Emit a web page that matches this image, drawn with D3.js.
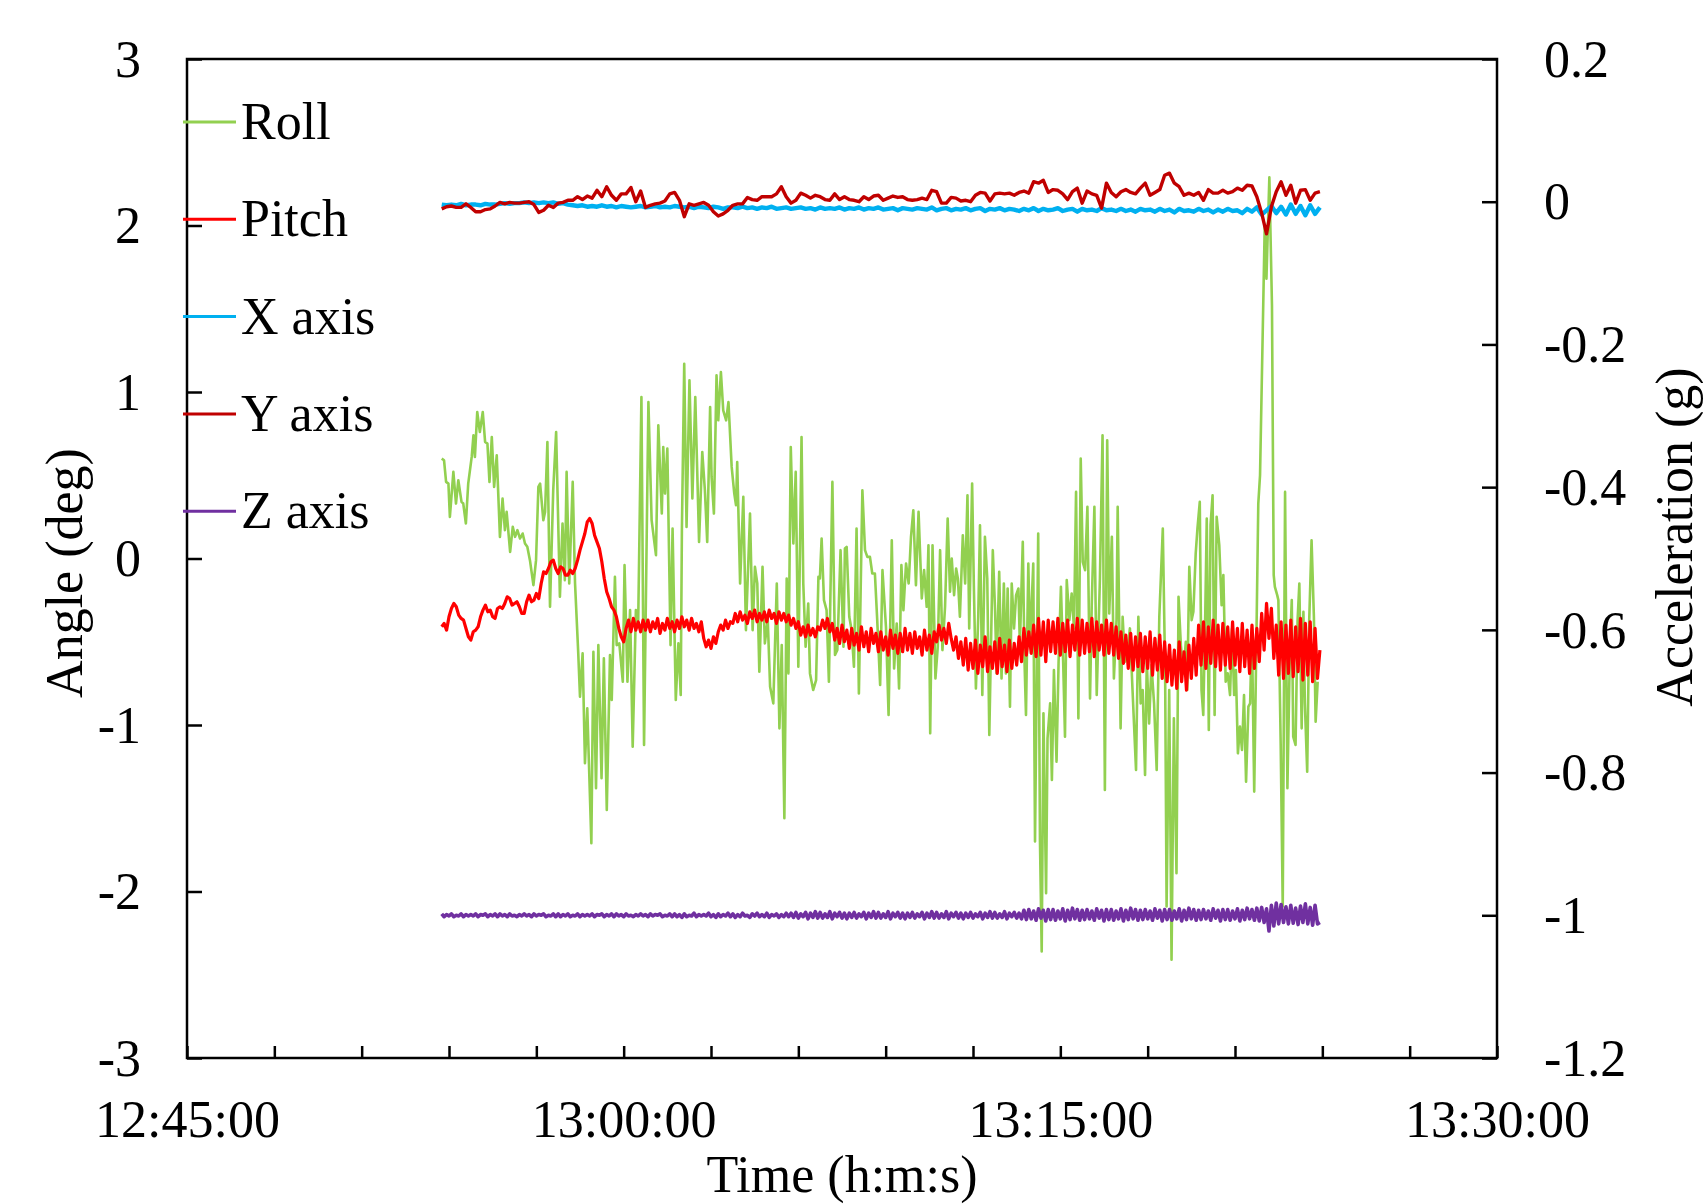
<!DOCTYPE html>
<html><head><meta charset="utf-8">
<script src="https://cdn.jsdelivr.net/npm/d3@7"></script>
<style>
body{margin:0;background:#fff}
svg text{font-family:"Liberation Serif","Times New Roman",serif;fill:#000}
</style>
</head><body>
<svg id="chart" width="1703" height="1204"></svg>
<script>
// ---------- data ----------
const axisStart = "12:45:00";
const axisEnd = "13:30:00";
const xTickStepMin = 3;
const xTickLabels = ["12:45:00", "13:00:00", "13:15:00", "13:30:00"];
const angleTicks = [-3, -2, -1, 0, 1, 2, 3];
const accTicks = [-1.2, -1, -0.8, -0.6, -0.4, -0.2, 0, 0.2];
const seriesNames = ["Roll", "Pitch", "X axis", "Y axis", "Z axis"];
const seriesColors = ["#92D050", "#FF0000", "#00B0F0", "#C00000", "#7030A0"];

// Roll: [minutes after 12:45:00, angle in deg]
const rollSamples = [
[8.75,0.60],[8.83,0.59],[8.90,0.46],[8.98,0.45],[9.03,0.25],[9.15,0.52],[9.24,0.33],[9.32,0.47],[9.43,0.34],[9.49,0.33],
[9.58,0.21],[9.66,0.45],[9.78,0.61],[9.84,0.74],[9.89,0.61],[9.97,0.88],[10.06,0.76],[10.16,0.88],[10.24,0.70],[10.32,0.69],
[10.39,0.46],[10.47,0.73],[10.55,0.43],[10.64,0.62],[10.75,0.13],[10.84,0.36],[10.92,0.17],[10.98,0.28],[11.10,0.04],[11.19,0.19],
[11.27,0.13],[11.35,0.17],[11.44,0.12],[11.53,0.15],[11.61,0.09],[11.69,0.07],[11.78,-0.01],[11.90,-0.16],[11.99,-0.01],[12.07,0.43],
[12.13,0.45],[12.24,0.23],[12.30,0.28],[12.38,0.70],[12.47,-0.29],[12.58,0.41],[12.68,0.76],[12.81,-0.23],[12.90,0.21],[12.98,-0.13],
[13.04,0.52],[13.13,-0.15],[13.25,0.46],[13.33,-0.15],[13.44,-0.57],[13.50,-0.83],[13.59,-0.57],[13.67,-1.23],[13.75,-0.90],[13.89,-1.71],
[13.96,-0.56],[14.05,-1.38],[14.13,-0.52],[14.24,-1.32],[14.32,-0.60],[14.42,-1.51],[14.53,-0.58],[14.59,-0.85],[14.70,-0.11],[14.76,-0.52],
[14.85,-0.51],[14.97,-0.74],[15.03,-0.04],[15.13,-0.74],[15.22,-0.31],[15.31,-1.13],[15.42,-0.31],[15.50,-0.37],[15.61,0.97],[15.70,-1.12],
[15.85,0.94],[15.96,0.23],[16.11,0.02],[16.19,0.80],[16.31,0.27],[16.36,0.67],[16.42,0.39],[16.50,0.66],[16.61,-0.52],[16.68,0.18],
[16.79,-0.85],[16.88,-0.51],[16.96,-0.82],[17.00,0.17],[17.08,1.17],[17.16,0.19],[17.26,1.07],[17.36,0.36],[17.46,0.97],[17.59,0.10],
[17.70,0.64],[17.79,0.41],[17.87,0.10],[17.97,0.91],[18.02,0.49],[18.10,0.27],[18.19,1.10],[18.25,0.83],[18.34,1.12],[18.42,0.89],
[18.52,0.83],[18.60,0.94],[18.71,0.55],[18.80,0.39],[18.86,0.32],[18.90,0.58],[19.00,-0.15],[19.11,0.37],[19.20,-0.43],[19.34,0.27],
[19.43,-0.43],[19.51,-0.05],[19.59,-0.15],[19.66,-0.68],[19.77,-0.05],[19.85,-0.51],[19.95,-0.37],[20.03,-0.77],[20.14,-0.87],[20.26,-0.15],
[20.35,-1.02],[20.43,-0.52],[20.52,-1.56],[20.60,-0.12],[20.66,-0.69],[20.74,0.67],[20.83,0.09],[20.91,0.52],[21.00,-0.65],[21.11,0.73],
[21.17,-0.15],[21.25,-0.53],[21.34,-0.27],[21.40,-0.69],[21.51,-0.79],[21.61,-0.73],[21.69,-0.11],[21.74,-0.12],[21.80,0.12],[21.88,-0.25],
[21.97,-0.31],[22.05,-0.74],[22.17,0.46],[22.26,-0.58],[22.34,-0.55],[22.45,0.05],[22.55,-0.53],[22.60,0.06],[22.66,0.07],[22.75,-0.35],
[22.83,-0.43],[22.91,-0.65],[23.00,0.18],[23.08,-0.81],[23.20,0.41],[23.29,0.05],[23.37,0.01],[23.46,0.01],[23.54,-0.09],[23.63,-0.09],
[23.71,-0.37],[23.81,-0.76],[23.89,-0.07],[24.01,-0.41],[24.10,-0.94],[24.21,0.11],[24.29,-0.66],[24.38,-0.39],[24.46,-0.78],[24.54,-0.04],
[24.61,-0.31],[24.70,-0.03],[24.79,-0.15],[24.87,0.13],[24.95,0.29],[25.04,-0.16],[25.13,0.28],[25.24,-0.24],[25.32,-0.07],[25.41,-0.29],
[25.47,0.08],[25.53,-1.05],[25.61,0.08],[25.71,-0.72],[25.79,-0.53],[25.87,0.05],[25.95,-0.55],[26.04,-0.29],[26.13,0.24],[26.21,-0.20],
[26.27,0.00],[26.35,-0.22],[26.42,-0.06],[26.48,-0.12],[26.55,-0.35],[26.65,0.14],[26.73,-0.15],[26.81,0.38],[26.87,-0.42],[26.97,0.45],
[27.03,-0.17],[27.10,-0.78],[27.18,-0.35],[27.24,0.20],[27.32,-0.82],[27.41,0.13],[27.49,-0.12],[27.56,-1.06],[27.68,0.05],[27.76,-0.32],
[27.81,-0.69],[27.90,-0.08],[27.98,-0.72],[28.06,-0.15],[28.13,-0.69],[28.19,-0.18],[28.27,-0.89],[28.33,-0.15],[28.41,-0.42],[28.48,-0.22],
[28.56,-0.18],[28.61,-0.52],[28.71,0.10],[28.77,-0.62],[28.82,-0.94],[28.90,-0.03],[28.96,-0.52],[29.07,-0.03],[29.13,-1.70],[29.24,0.15],
[29.30,-1.69],[29.36,-2.36],[29.42,-0.93],[29.51,-2.01],[29.56,-1.08],[29.65,-0.87],[29.71,-1.33],[29.78,-0.67],[29.87,-1.22],[29.94,-0.62],
[30.02,-0.17],[30.10,-0.64],[30.16,-1.07],[30.22,-0.13],[30.31,-0.37],[30.39,-0.21],[30.47,-0.42],[30.54,0.40],[30.62,-0.96],[30.70,0.60],
[30.77,-0.02],[30.85,-0.07],[30.93,0.31],[31.02,-0.84],[31.08,-0.27],[31.17,0.31],[31.25,-0.82],[31.36,-0.12],[31.45,0.74],[31.53,-1.39],
[31.61,0.71],[31.68,-0.33],[31.77,0.13],[31.84,-0.72],[31.93,-0.37],[31.97,0.31],[32.07,-1.02],[32.14,-0.35],[32.22,-0.62],[32.28,-0.60],
[32.39,-0.42],[32.48,-0.79],[32.60,-1.27],[32.68,-0.35],[32.76,-0.87],[32.83,-0.79],[32.91,-1.30],[32.97,-0.62],[33.05,-0.99],[33.13,-0.64],
[33.22,-0.87],[33.31,-1.27],[33.40,-0.35],[33.52,0.18],[33.60,-0.69],[33.65,-2.09],[33.74,-0.79],[33.82,-2.41],[33.90,-0.96],[33.99,-1.89],
[34.06,-0.23],[34.14,-0.52],[34.23,-0.69],[34.31,-0.50],[34.36,-0.79],[34.43,-0.05],[34.51,-0.37],[34.57,-0.32],[34.65,0.03],[34.71,0.18],
[34.79,0.34],[34.85,-0.79],[34.91,-0.94],[34.98,-0.32],[35.03,0.24],[35.10,-1.03],[35.16,0.20],[35.23,0.38],[35.30,-0.94],[35.37,0.25],
[35.46,0.08],[35.54,-0.28],[35.60,-0.10],[35.68,-0.74],[35.75,-0.69],[35.83,-0.82],[35.90,-0.42],[35.97,-0.82],[36.03,-0.67],[36.10,-1.17],
[36.17,-1.01],[36.24,-1.15],[36.31,-0.82],[36.38,-1.34],[36.46,-0.89],[36.52,-0.87],[36.58,-0.42],[36.66,-1.40],[36.74,-0.42],[36.80,0.33],
[36.86,0.50],[37.02,1.99],[37.08,1.68],[37.18,2.29],[37.27,1.52],[37.33,-0.10],[37.37,-0.17],[37.45,-0.22],[37.49,-0.25],[37.57,-1.12],
[37.64,-2.09],[37.72,0.40],[37.80,-1.38],[37.89,-0.52],[37.95,-0.25],[38.00,-1.07],[38.08,-1.12],[38.15,-0.37],[38.21,-0.15],[38.29,-1.02],
[38.35,-0.32],[38.40,-0.87],[38.48,-1.28],[38.55,-0.37],[38.63,0.11],[38.71,-0.35],[38.77,-0.98],[38.84,-0.74]
];

// Pitch and Z axis: one value every 5 s from sampleStart
const sampleStart = "12:53:45";
const fineStepSec = 5;
const pitchDeg = [
-0.41,-0.39,-0.43,-0.35,-0.30,-0.27,-0.29,-0.34,-0.36,-0.37,-0.42,-0.47,-0.49,-0.44,-0.43,-0.41,-0.35,-0.31,-0.28,-0.32,
-0.31,-0.35,-0.36,-0.30,-0.29,-0.30,-0.27,-0.23,-0.24,-0.28,-0.27,-0.26,-0.29,-0.33,-0.33,-0.26,-0.22,-0.26,-0.25,-0.21,
-0.24,-0.15,-0.08,-0.09,-0.06,-0.02,-0.01,-0.06,-0.09,-0.05,-0.06,-0.10,-0.10,-0.07,-0.09,-0.06,-0.01,0.05,0.10,0.15,
0.22,0.24,0.21,0.14,0.10,0.06,-0.02,-0.12,-0.20,-0.24,-0.29,-0.31,
-0.35,-0.42,-0.47,-0.50,-0.42,-0.37,-0.44,-0.36,-0.43,-0.38,-0.44,-0.37,
-0.43,-0.37,-0.44,-0.38,-0.42,-0.36,-0.45,-0.39,-0.43,-0.36,-0.42,-0.38,
-0.44,-0.37,-0.42,-0.35,-0.41,-0.37,-0.43,-0.36,-0.42,-0.39,-0.44,-0.38,
-0.48,-0.53,-0.49,-0.54,-0.47,-0.51,-0.44,-0.40,-0.43,-0.37,-0.42,-0.38,
-0.39,-0.33,-0.38,-0.32,-0.37,-0.34,-0.39,-0.32,-0.36,-0.31,-0.38,-0.33,
-0.37,-0.32,-0.38,-0.31,-0.36,-0.33,-0.39,-0.32,-0.37,-0.33,-0.38,-0.34,
-0.40,-0.36,-0.42,-0.38,-0.46,-0.41,-0.47,-0.40,-0.46,-0.42,-0.47,-0.41,
-0.43,-0.37,-0.42,-0.36,-0.44,-0.39,-0.49,-0.42,-0.51,-0.40,-0.50,-0.43,
-0.54,-0.42,-0.52,-0.45,-0.55,-0.41,-0.53,-0.44,-0.56,-0.42,-0.51,-0.45,
-0.56,-0.44,-0.55,-0.47,-0.58,-0.43,-0.54,-0.46,-0.57,-0.45,-0.56,-0.42,
-0.55,-0.45,-0.57,-0.44,-0.54,-0.47,-0.58,-0.43,-0.55,-0.46,-0.57,-0.44,
-0.50,-0.40,-0.49,-0.42,-0.51,-0.39,-0.48,-0.55,-0.47,-0.60,-0.50,-0.64,
-0.48,-0.67,-0.51,-0.66,-0.49,-0.69,-0.52,-0.65,-0.47,-0.68,-0.53,-0.66,
-0.50,-0.69,-0.48,-0.65,-0.52,-0.68,-0.49,-0.66,-0.51,-0.64,-0.47,-0.62,
-0.42,-0.58,-0.44,-0.57,-0.40,-0.59,-0.36,-0.58,-0.38,-0.62,-0.37,-0.56,
-0.38,-0.57,-0.36,-0.58,-0.39,-0.56,-0.37,-0.59,-0.40,-0.55,-0.36,-0.58,
-0.37,-0.57,-0.39,-0.56,-0.36,-0.59,-0.38,-0.55,-0.40,-0.58,-0.37,-0.57,
-0.39,-0.58,-0.41,-0.60,-0.44,-0.63,-0.46,-0.66,-0.45,-0.67,-0.47,-0.65,
-0.45,-0.68,-0.47,-0.66,-0.44,-0.70,-0.48,-0.67,-0.46,-0.72,-0.50,-0.74,
-0.52,-0.76,-0.55,-0.78,-0.50,-0.74,-0.56,-0.79,-0.52,-0.72,-0.48,-0.70,
-0.40,-0.64,-0.38,-0.66,-0.41,-0.63,-0.37,-0.65,-0.40,-0.67,-0.39,-0.64,
-0.41,-0.66,-0.38,-0.64,-0.42,-0.68,-0.39,-0.65,-0.43,-0.69,-0.40,-0.66,
-0.42,-0.62,-0.33,-0.55,-0.27,-0.48,-0.30,-0.60,-0.40,-0.70,-0.38,-0.72,
-0.40,-0.69,-0.37,-0.71,-0.41,-0.68,-0.36,-0.73,-0.39,-0.70,-0.38,-0.74,
-0.42,-0.72,-0.55
];

const accZg = [
-0.998,-1.002,-0.999,-1.001,-0.998,-1.002,-1.000,-1.001,-0.998,-1.002,-0.999,-1.001,
-0.999,-1.001,-0.998,-1.002,-0.999,-1.000,-0.998,-1.002,-0.999,-1.001,-0.998,-1.002,
-0.998,-1.001,-0.999,-1.002,-0.998,-1.001,-1.000,-1.002,-0.999,-1.001,-0.998,-1.001,
-0.999,-1.002,-0.998,-1.001,-0.999,-1.000,-0.998,-1.002,-1.000,-1.001,-0.998,-1.002,
-0.998,-1.002,-0.999,-1.001,-0.998,-1.002,-1.000,-1.001,-0.998,-1.002,-0.999,-1.001,
-0.999,-1.001,-0.998,-1.002,-0.999,-1.000,-0.998,-1.002,-0.999,-1.001,-0.998,-1.002,
-0.998,-1.001,-0.999,-1.002,-0.998,-1.001,-1.000,-1.002,-0.999,-1.001,-0.998,-1.001,
-0.999,-1.002,-0.998,-1.001,-0.999,-1.000,-0.998,-1.002,-1.000,-1.001,-0.998,-1.002,
-0.998,-1.002,-0.999,-1.003,-0.998,-1.002,-1.000,-1.001,-0.997,-1.002,-0.999,-1.001,
-0.999,-1.001,-0.997,-1.002,-0.999,-1.003,-0.998,-1.002,-0.999,-1.001,-0.997,-1.002,
-0.998,-1.003,-0.999,-1.002,-0.997,-1.001,-1.000,-1.003,-0.998,-1.001,-0.997,-1.002,
-0.999,-1.002,-0.997,-1.003,-0.999,-1.001,-0.998,-1.003,-0.999,-1.002,-0.997,-1.002,
-0.997,-1.003,-0.996,-1.004,-0.998,-1.002,-0.996,-1.005,-0.997,-1.003,-0.995,-1.004,
-0.996,-1.004,-0.998,-1.003,-0.995,-1.005,-0.997,-1.002,-0.996,-1.004,-0.997,-1.005,
-0.997,-1.003,-0.996,-1.004,-0.998,-1.002,-0.996,-1.005,-0.997,-1.003,-0.995,-1.004,
-0.996,-1.004,-0.998,-1.003,-0.995,-1.005,-0.997,-1.002,-0.996,-1.004,-0.997,-1.005,
-0.997,-1.003,-0.996,-1.004,-0.998,-1.002,-0.996,-1.005,-0.997,-1.003,-0.995,-1.004,
-0.996,-1.004,-0.998,-1.003,-0.995,-1.005,-0.997,-1.002,-0.996,-1.004,-0.997,-1.005,
-0.997,-1.003,-0.996,-1.004,-0.998,-1.002,-0.996,-1.005,-0.997,-1.003,-0.995,-1.004,
-0.996,-1.004,-0.998,-1.003,-0.995,-1.005,-0.997,-1.002,-0.996,-1.004,-0.997,-1.005,
-0.993,-1.006,-0.992,-1.005,-0.994,-1.007,-0.991,-1.004,-0.993,-1.008,-0.992,-1.006,
-0.992,-1.007,-0.994,-1.005,-0.991,-1.008,-0.993,-1.006,-0.990,-1.005,-0.992,-1.007,
-0.993,-1.006,-0.992,-1.005,-0.994,-1.007,-0.991,-1.004,-0.993,-1.008,-0.992,-1.006,
-0.992,-1.007,-0.994,-1.005,-0.991,-1.008,-0.993,-1.006,-0.990,-1.005,-0.992,-1.007,
-0.993,-1.006,-0.992,-1.005,-0.994,-1.007,-0.991,-1.004,-0.993,-1.008,-0.992,-1.006,
-0.992,-1.007,-0.994,-1.005,-0.991,-1.008,-0.993,-1.006,-0.990,-1.005,-0.992,-1.007,
-0.993,-1.006,-0.992,-1.005,-0.994,-1.007,-0.991,-1.004,-0.993,-1.008,-0.992,-1.006,
-0.992,-1.007,-0.994,-1.005,-0.991,-1.008,-0.993,-1.006,-0.990,-1.005,-0.992,-1.007,
-0.990,-1.008,-0.989,-1.010,-0.991,-1.022,-0.986,-1.015,-0.983,-1.012,-0.985,-1.010,
-0.988,-1.012,-0.986,-1.011,-0.990,-1.013,-0.987,-1.010,-0.984,-1.012,-0.989,-1.014,
-0.986,-1.012,-1.010
];

// X and Y axis: one value every 10 s from sampleStart
const coarseStepSec = 10;
const accXg = [
-0.004,-0.005,-0.004,-0.005,-0.003,-0.005,-0.004,-0.004,-0.005,-0.003,
-0.004,-0.004,-0.003,-0.002,-0.003,-0.002,-0.002,-0.001,-0.002,-0.001,
-0.002,-0.001,-0.002,-0.001,-0.003,-0.002,-0.004,-0.005,-0.006,-0.005,
-0.007,-0.006,-0.007,-0.005,-0.007,-0.006,-0.008,-0.006,-0.007,-0.008,
-0.007,-0.006,-0.008,-0.007,-0.006,-0.008,-0.007,-0.008,-0.006,-0.007,
-0.008,-0.007,-0.009,-0.007,-0.008,-0.009,-0.007,-0.008,-0.010,-0.008,
-0.008,-0.009,-0.007,-0.009,-0.008,-0.010,-0.008,-0.009,-0.007,-0.010,
-0.009,-0.008,-0.010,-0.009,-0.008,-0.010,-0.009,-0.011,-0.008,-0.010,
-0.009,-0.010,-0.008,-0.011,-0.009,-0.010,-0.008,-0.011,-0.009,-0.010,
-0.008,-0.011,-0.010,-0.009,-0.012,-0.009,-0.010,-0.011,-0.009,-0.010,
-0.011,-0.008,-0.012,-0.010,-0.009,-0.012,-0.010,-0.011,-0.009,-0.012,
-0.010,-0.009,-0.013,-0.010,-0.011,-0.009,-0.012,-0.010,-0.011,-0.013,
-0.010,-0.012,-0.009,-0.013,-0.010,-0.012,-0.011,-0.009,-0.013,-0.011,
-0.010,-0.014,-0.010,-0.012,-0.011,-0.013,-0.009,-0.012,-0.011,-0.013,
-0.010,-0.013,-0.011,-0.014,-0.010,-0.012,-0.011,-0.014,-0.010,-0.013,
-0.011,-0.015,-0.010,-0.013,-0.012,-0.014,-0.010,-0.013,-0.011,-0.015,
-0.011,-0.014,-0.010,-0.013,-0.012,-0.016,-0.010,-0.014,-0.008,-0.018,
-0.012,-0.006,-0.016,-0.007,-0.018,-0.004,-0.017,-0.006,-0.019,-0.005,
-0.017,-0.008
];

const accYg = [
-0.010,-0.007,-0.006,-0.008,-0.008,-0.003,-0.008,-0.014,-0.014,-0.011,
-0.010,-0.006,-0.001,-0.003,-0.001,-0.002,-0.002,-0.001,0.000,-0.004,
-0.015,-0.012,-0.005,-0.008,-0.002,-0.001,0.002,0.002,0.007,0.003,
0.008,0.005,0.016,0.007,0.021,0.009,0.002,0.011,0.011,0.020,
0.000,0.015,-0.008,-0.005,-0.003,-0.002,0.001,0.011,0.013,0.002,
-0.021,-0.003,-0.005,-0.003,-0.001,-0.005,-0.014,-0.020,-0.017,-0.012,
-0.005,-0.003,-0.003,0.006,0.003,0.002,0.007,0.007,0.007,0.011,
0.021,0.007,-0.002,0.002,0.012,0.009,0.005,0.009,0.007,0.003,
0.002,0.011,0.003,0.007,0.003,0.002,0.000,0.007,0.003,0.008,
0.009,0.002,0.005,0.008,0.006,0.007,0.003,0.002,0.003,0.005,
0.003,0.016,0.014,-0.002,-0.002,0.006,0.005,0.001,0.002,0.000,
0.009,0.013,0.012,0.001,0.011,0.012,0.011,0.012,0.009,0.013,
0.015,0.012,0.028,0.026,0.030,0.013,0.017,0.016,0.011,0.003,
0.014,0.019,-0.002,0.015,0.011,0.009,-0.009,0.026,0.013,0.007,
0.014,0.017,0.013,0.011,0.019,0.026,0.009,0.013,0.017,0.037,
0.040,0.026,0.021,0.009,0.012,0.009,0.013,0.002,0.017,0.012,
0.012,0.016,0.012,0.014,0.019,0.016,0.023,0.022,0.007,-0.016,
-0.045,-0.007,0.014,0.028,0.009,0.023,-0.002,0.016,0.017,0.002,
0.012,0.014
];

// ---------- chart ----------
const svg = d3.select("#chart");
const L = 187, R = 1497, T = 59, B = 1058;
const FS = 52;
const parse = d3.timeParse("%H:%M:%S");
const fmt = d3.timeFormat("%H:%M:%S");
const t0 = parse(axisStart), t1 = parse(axisEnd);

const x = d3.scaleTime().domain([t0, t1]).range([L, R]);
const yL = d3.scaleLinear().domain([d3.min(angleTicks), d3.max(angleTicks)]).range([B, T]);
const yR = d3.scaleLinear().domain([d3.min(accTicks), d3.max(accTicks)]).range([B, T]);

const sStart = parse(sampleStart);
const line = (ys) => d3.line().x(d => x(d.t)).y(d => ys(d.v));

const rollData = rollSamples.map(d => ({t: new Date(+t0 + d[0] * 60000), v: d[1]}));
const mk = (arr, step) => arr.map((v, i) => ({t: new Date(+sStart + i * step * 1000), v}));

const series = [
  {data: rollData, y: yL, w: 2.6},
  {data: mk(pitchDeg, fineStepSec), y: yL, w: 3.2},
  {data: mk(accXg, coarseStepSec), y: yR, w: 4.4},
  {data: mk(accYg, coarseStepSec), y: yR, w: 3.4},
  {data: mk(accZg, fineStepSec), y: yR, w: 3.6}
];
series.forEach((s, i) => {
  svg.append("path").datum(s.data)
    .attr("fill", "none").attr("stroke", seriesColors[i])
    .attr("stroke-width", s.w).attr("stroke-linejoin", "round")
    .attr("d", line(s.y));
});

// axes
const xt = d3.timeMinute.every(xTickStepMin).range(t0, new Date(+t1 + 1));
const gx = svg.append("g").attr("transform", `translate(0,${B})`)
  .call(d3.axisBottom(x).tickValues(xt).tickSize(-12)
    .tickFormat(d => xTickLabels.includes(fmt(d)) ? fmt(d) : ""));
const gl = svg.append("g").attr("transform", `translate(${L},0)`)
  .call(d3.axisLeft(yL).tickValues(angleTicks).tickSize(-15).tickPadding(46).tickFormat(d => String(d)));
const gr = svg.append("g").attr("transform", `translate(${R},0)`)
  .call(d3.axisRight(yR).tickValues(accTicks).tickSize(-15).tickPadding(47).tickFormat(d => String(+d.toFixed(1))));

[gx, gl, gr].forEach(g => {
  g.select(".domain").remove();
  g.selectAll(".tick line").attr("stroke", "#000").attr("stroke-width", 2.5);
  g.selectAll(".tick text").attr("font-size", FS).attr("fill", "#000")
    .style("font-family", '"Liberation Serif","Times New Roman",serif');
});
gx.selectAll(".tick text").attr("y", 79).attr("dy", null);
gl.selectAll(".tick text").attr("dy", "0.33em");
gr.selectAll(".tick text").attr("dy", "0.33em");

// frame
svg.append("rect").attr("x", L).attr("y", T).attr("width", R - L).attr("height", B - T)
  .attr("fill", "none").attr("stroke", "#000").attr("stroke-width", 2.5);

// axis titles
svg.append("text").attr("transform", "translate(82,573) rotate(-90)")
  .attr("text-anchor", "middle").attr("font-size", FS).text("Angle (deg)");
svg.append("text").attr("transform", "translate(1692,537) rotate(-90)")
  .attr("text-anchor", "middle").attr("font-size", FS).text("Acceleration (g)");
svg.append("text").attr("x", (L + R) / 2).attr("y", 1192)
  .attr("text-anchor", "middle").attr("font-size", FS).text("Time (h:m:s)");

// legend
const legY0 = 122, legDy = 97.3;
seriesNames.forEach((n, i) => {
  const y = legY0 + i * legDy;
  svg.append("line").attr("x1", 183).attr("x2", 236).attr("y1", y).attr("y2", y)
    .attr("stroke", seriesColors[i]).attr("stroke-width", 3);
  svg.append("text").attr("x", 241).attr("y", y + 17).attr("font-size", FS).text(n);
});
</script>
</body></html>
